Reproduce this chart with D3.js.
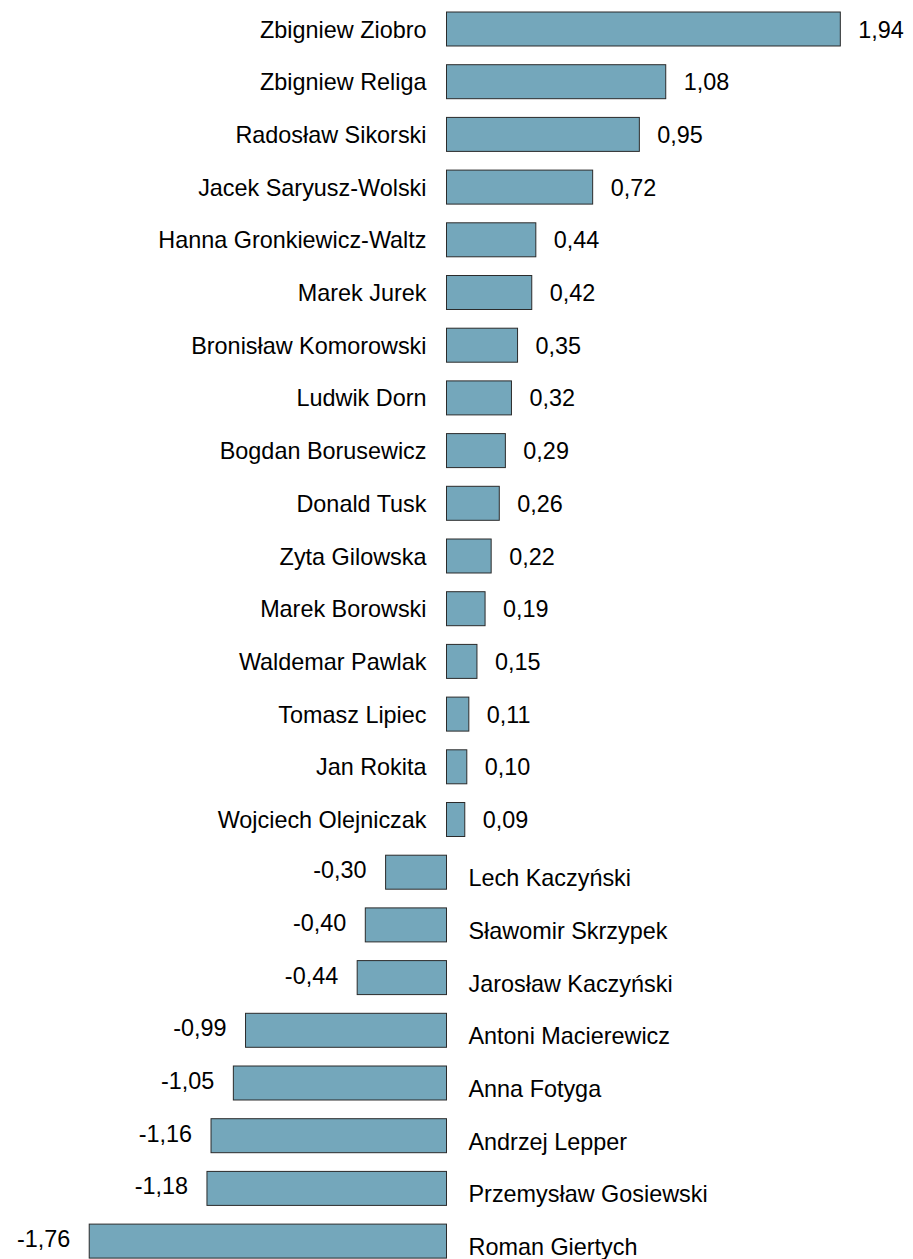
<!DOCTYPE html>
<html>
<head>
<meta charset="utf-8">
<script src="https://cdn.jsdelivr.net/npm/d3@7"></script>
<style>
    html, body { margin: 0; padding: 0; background: #fff; }
    #main { width: 913px; height: 1259px; }
    text { font-family: "Liberation Sans", Arial, sans-serif; font-size: 23.4px; fill: #000; }
</style>
</head>
<body>
<div id="main"></div>
<script>
const names = [
    "Zbigniew Ziobro", "Zbigniew Religa", "Radosław Sikorski", "Jacek Saryusz-Wolski",
    "Hanna Gronkiewicz-Waltz", "Marek Jurek", "Bronisław Komorowski", "Ludwik Dorn",
    "Bogdan Borusewicz", "Donald Tusk", "Zyta Gilowska", "Marek Borowski",
    "Waldemar Pawlak", "Tomasz Lipiec", "Jan Rokita", "Wojciech Olejniczak",
    "Lech Kaczyński", "Sławomir Skrzypek", "Jarosław Kaczyński", "Antoni Macierewicz",
    "Anna Fotyga", "Andrzej Lepper", "Przemysław Gosiewski", "Roman Giertych"
];
const scores = [
    1.94, 1.08, 0.95, 0.72, 0.44, 0.42, 0.35, 0.32, 0.29, 0.26, 0.22, 0.19,
    0.15, 0.11, 0.10, 0.09, -0.30, -0.40, -0.44, -0.99, -1.05, -1.16, -1.18, -1.76
];

const chart = {
    WIDTH: 913,
    HEIGHT: 1259,
    BAR_FILL: "#74a7bb",
    BAR_STROKE: "#2b2b2b"
};

function drawChart() {
    const rows = names.map((n, i) => ({ name: n, value: scores[i] }));
    const fmt = v => v.toFixed(2).replace(".", ",");

    const svg = d3.select("#main").append("svg")
        .attr("width", chart.WIDTH)
        .attr("height", chart.HEIGHT);

    // 203 px per unit, zero at 446.5
    const x = d3.scaleLinear().domain([-2, 2]).range([40.5, 852.5]);

    const y = d3.scaleBand()
        .domain(names)
        .range([2.65, 1267.45])
        .paddingInner(0.355)
        .paddingOuter(0.1775);

    const x0 = x(0);

    const g = svg.selectAll("g.row")
        .data(rows)
        .enter()
        .append("g")
        .attr("class", "row");

    g.append("rect")
        .attr("x", d => Math.min(x(d.value), x0))
        .attr("y", d => y(d.name))
        .attr("width", d => Math.abs(x(d.value) - x0))
        .attr("height", y.bandwidth())
        .attr("fill", chart.BAR_FILL)
        .attr("stroke", chart.BAR_STROKE)
        .attr("stroke-width", 1);

    const mid = d => y(d.name) + y.bandwidth() / 2;

    // names: left of the bar for positives, lower right for negatives
    g.append("text")
        .attr("x", d => d.value >= 0 ? x0 - 20 : x0 + 22)
        .attr("y", d => d.value >= 0 ? mid(d) + 8.5 : mid(d) + 14)
        .attr("text-anchor", d => d.value >= 0 ? "end" : "start")
        .text(d => d.name);

    // values
    g.append("text")
        .attr("class", "val")
        .attr("x", d => d.value >= 0 ? x(d.value) + 18 : x(d.value) - 19)
        .attr("y", d => d.value >= 0 ? mid(d) + 8.5 : mid(d) + 6)
        .attr("text-anchor", d => d.value >= 0 ? "start" : "end")
        .text(d => fmt(d.value));

    // keep the largest label inside the frame
    svg.selectAll("text.val").each(function() {
        const b = this.getBBox();
        if (b.x + b.width > chart.WIDTH - 2) {
            d3.select(this).attr("x", +d3.select(this).attr("x") - (b.x + b.width - (chart.WIDTH - 2)));
        }
    });
}

drawChart();
</script>
</body>
</html>
